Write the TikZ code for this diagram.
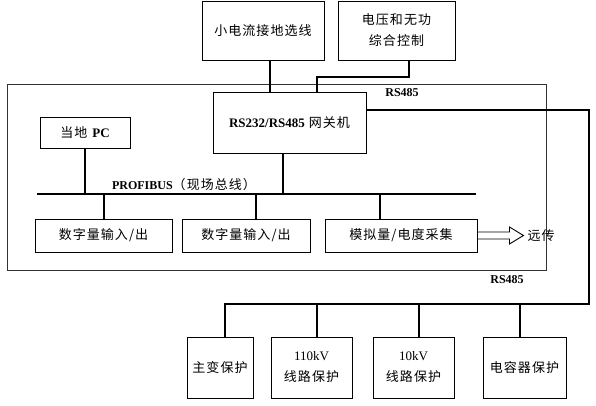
\documentclass[tikz,border=0pt]{standalone}
\usepackage{fontspec}
\setmainfont{Liberation Serif}
\newfontfamily\cjk[LetterSpace=8]{Noto Sans CJK SC}
\usetikzlibrary{calc}
\begin{document}
\begin{tikzpicture}[x=1pt,y=-1pt,
  box/.style={draw, line width=0.9pt, inner sep=0pt, align=center,
    font=\cjk\fontsize{13}{21}\selectfont},
  conn/.style={line width=2pt},
  frame/.style={line width=0.5pt, draw=black!80},
  lbl/.style={inner sep=0pt, font=\fontsize{12}{14}\selectfont\bfseries}]
\useasboundingbox (0,0) rectangle (596,406);
% outer frame
\draw[frame] (7,84) rectangle (546,270);
% top boxes
\node[box, minimum width=122pt, minimum height=59pt] (b1) at (263,30.5) {小电流接地选线};
\node[box, minimum width=117pt, minimum height=59pt] (b2) at (396.5,30.5) {电压和无功\\综合控制};
% gateway
\node[box, minimum width=153pt, minimum height=61pt] (gw) at (289.5,122.5) {\textrm{\bfseries RS232/RS485} 网关机};
% local PC
\node[box, minimum width=90pt, minimum height=31pt] (pc) at (85,132.5) {当地 \textrm{\bfseries PC}};
% IO boxes
\node[box, minimum width=137pt, minimum height=33pt] (d1) at (103.5,235.5) {数字量输入/出};
\node[box, minimum width=128pt, minimum height=33pt] (d2) at (246,235.5) {数字量输入/出};
\node[box, minimum width=152pt, minimum height=33pt] (an) at (401,235.5) {模拟量/电度采集};
% protection boxes
\node[box, minimum width=66pt, minimum height=61pt] (p1) at (220,367.5) {主变保护};
\node[box, minimum width=81pt, minimum height=61pt] (p2) at (311.5,367.5) {\textrm{110kV}\\线路保护};
\node[box, minimum width=81pt, minimum height=61pt] (p3) at (413.5,367.5) {\textrm{10kV}\\线路保护};
\node[box, minimum width=83pt, minimum height=61pt] (p4) at (524.5,367.5) {电容器保护};
% labels
\node[lbl] (rs1) at (402,93) {RS485};
\node[lbl] (rs2) at (507,280) {RS485};
\node[inner sep=0pt, font=\fontsize{12}{14}\selectfont\bfseries] (pf) at (184,185)
  {PROFIBUS{\cjk\mdseries\fontsize{13}{14}\selectfont （现场总线）}};
% bus
\coordinate (busL) at (37,194);
\coordinate (busR) at (476,194);
\draw[conn] (busL) -- (busR);
\draw[conn] (pc.south) -- (pc.south |- busL);
\draw[conn] ([xshift=-6.5pt]gw.south) -- ([xshift=-6.5pt]gw.south |- busL);
\draw[conn] (d1.north) -- (d1.north |- busL);
\draw[conn] ([xshift=10pt]d2.north) -- ([xshift=10pt]d2.north |- busL);
\draw[conn] ([xshift=-21pt]an.north) -- ([xshift=-21pt]an.north |- busL);
% top connections
\draw[conn] ([xshift=7pt]b1.south) -- ([xshift=7pt]b1.south |- gw.north);
\draw[conn] ([xshift=12.5pt]b2.south) -- ++(0,17) -| ([xshift=27.5pt]gw.north);
% RS485 trunk to protections
\coordinate (R) at (589,304);
\draw[conn] ([yshift=12.5pt]gw.east) -| (R) -| ([xshift=5pt]p1.north);
\draw[conn] ([xshift=5.5pt]p2.north) -- ([xshift=5.5pt]p2.north |- R);
\draw[conn] ([xshift=5.5pt]p3.north) -- ([xshift=5.5pt]p3.north |- R);
\draw[conn] ([xshift=-4.5pt]p4.north) -- ([xshift=-4.5pt]p4.north |- R);
% hollow arrow
\draw[line width=0.9pt, line join=miter] ([yshift=3.5pt]an.east) -- ++(32,0) -- ++(0,-5)
  -- ++(14,8.5) coordinate (tip) -- ++(-14,8.5) -- ++(0,-5) -- ++(-32,0);
\node[inner sep=0pt, anchor=west, font=\cjk\fontsize{13}{14}\selectfont] (yc) at ([xshift=4pt]tip) {远传};
\end{tikzpicture}
\end{document}
